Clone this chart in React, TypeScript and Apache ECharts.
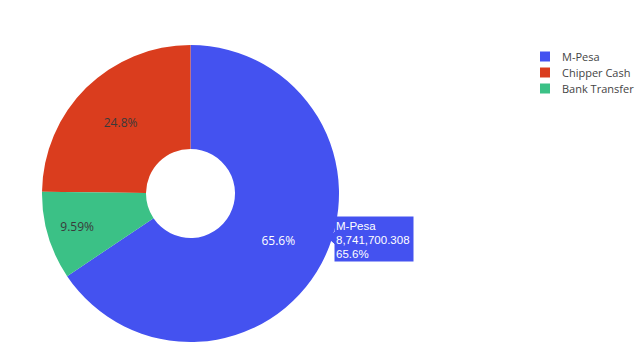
import React, { useEffect, useRef } from "react";
import * as echarts from "echarts";

const categories = ["M-Pesa", "Chipper Cash", "Bank Transfer"];
const values = [8741700.308, 3304789, 1277940];
const colors = ["#4452F0", "#DA3D1E", "#3BC186"];
const hoverIndex = 0;

export default function App() {
  const ref = useRef<HTMLDivElement>(null);
  useEffect(() => {
    if (!ref.current) return;
    const chart = echarts.init(ref.current, undefined, { renderer: "svg" });
    const total = values.reduce((a, b) => a + b, 0);
    const pct = (v: number) => ((v / total) * 100).toPrecision(3) + "%";
    const hv = values[hoverIndex];
    const hvText = hv.toLocaleString("en-US", { maximumFractionDigits: 3 });
    const startAngle = 90 - (360 * values[0]) / total;
    const data = categories.map((name, i) => {
      const item: any = {
        name,
        value: values[i],
        itemStyle: { color: colors[i] },
        label: { color: i === 0 ? "#ffffff" : "#3a3a3a" },
      };
      if (i === 2) item.label.offset = [-18, 5];
      return item;
    });
    chart.setOption({
      animation: false,
      legend: {
        orient: "vertical",
        left: 535,
        top: 46,
        icon: "rect",
        itemWidth: 10,
        itemHeight: 10,
        itemGap: 5,
        data: categories,
        textStyle: { fontFamily: "Open Sans", fontSize: 11, color: "#444", padding: [0, 0, 0, 7] },
        selectedMode: false,
      },
      series: [
        {
          type: "pie",
          center: [190.5, 193.5],
          radius: [44.5, 148.5],
          startAngle,
          clockwise: false,
          avoidLabelOverlap: false,
          silent: true,
          percentPrecision: 4,
          itemStyle: { borderWidth: 0 },
          label: {
            show: true,
            position: "inside",
            fontFamily: "Open Sans",
            fontSize: 12,
            formatter: (p: any) => pct(p.value),
          },
          labelLine: { show: false },
          data,
        },
      ],
      graphic: [
        {
          type: "group",
          x: 327,
          y: 216,
          children: [
            {
              type: "polygon",
              shape: {
                points: [
                  [0, 22],
                  [7, 16],
                  [7, 0],
                  [87, 0],
                  [87, 46],
                  [7, 46],
                  [7, 28],
                ],
              },
              style: { fill: colors[hoverIndex], stroke: "#ffffff", lineWidth: 1 },
            },
            {
              type: "text",
              x: 9,
              y: 10,
              style: {
                text: categories[hoverIndex],
                fill: "#ffffff",
                font: "11.5px 'Liberation Sans', Arial, sans-serif",
                verticalAlign: "middle",
              },
            },
            {
              type: "text",
              x: 9,
              y: 24,
              style: {
                text: hvText,
                fill: "#ffffff",
                font: "11.5px 'Liberation Sans', Arial, sans-serif",
                verticalAlign: "middle",
              },
            },
            {
              type: "text",
              x: 9,
              y: 38,
              style: {
                text: pct(hv),
                fill: "#ffffff",
                font: "11.5px 'Liberation Sans', Arial, sans-serif",
                verticalAlign: "middle",
              },
            },
          ],
        },
      ],
    });
    return () => chart.dispose();
  }, []);
  return (
    <div
      ref={ref}
      style={{ position: "absolute", left: 0, top: 0, width: 640, height: 356, background: "#fff" }}
    />
  );
}
